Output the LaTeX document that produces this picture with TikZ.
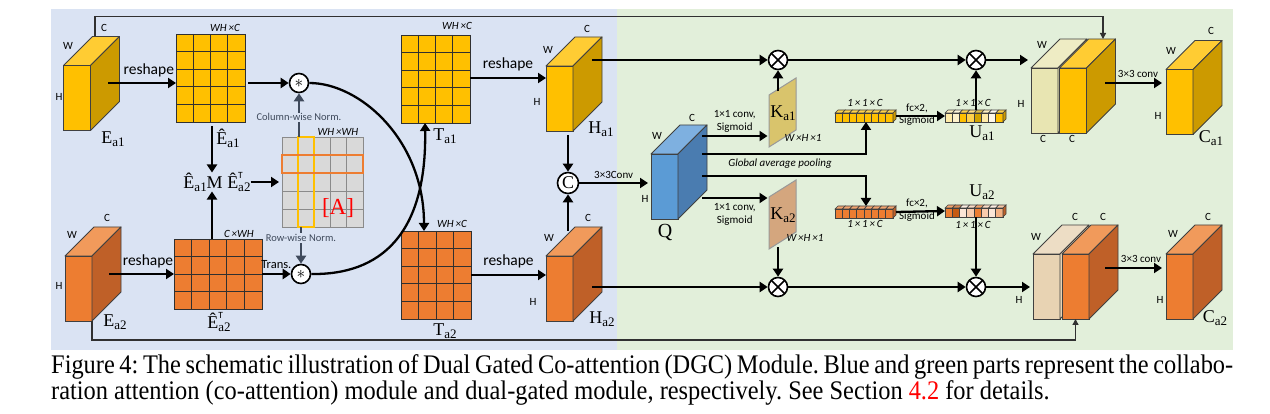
\documentclass[tikz,border=0pt]{standalone}
\usepackage{fontspec}
\setmainfont{Liberation Serif}
\newfontfamily\calib{Carlito}
\usetikzlibrary{calc,arrows.meta}
\definecolor{bgblue}{HTML}{DAE3F3}
\definecolor{bggreen}{HTML}{E2EFDA}
\definecolor{yfront}{HTML}{FFC000}
\definecolor{yside}{HTML}{CC9A00}
\definecolor{ytop}{HTML}{FFCC33}
\definecolor{ofront}{HTML}{ED7D31}
\definecolor{oside}{HTML}{BF6028}
\definecolor{otop}{HTML}{F19A5B}
\definecolor{bfront}{HTML}{5B9BD5}
\definecolor{bside}{HTML}{4A7CB0}
\definecolor{btop}{HTML}{7EB0E0}
\definecolor{pale}{HTML}{E8E5B2}
\definecolor{paletop}{HTML}{EEECC4}
\definecolor{paleo}{HTML}{E8D3B3}
\definecolor{paleotop}{HTML}{EDDDC5}
\definecolor{kyel}{HTML}{D9C46C}
\definecolor{kora}{HTML}{D4A67E}
\definecolor{edge}{HTML}{404040}
\definecolor{gridl}{HTML}{303030}
\definecolor{gcell}{HTML}{D9D9D9}
\definecolor{gline}{HTML}{8A8A8A}
\definecolor{normc}{HTML}{3F4A5C}
\definecolor{ua}{HTML}{FFEBA8}
\definecolor{ub}{HTML}{FFF2CC}
\definecolor{uc}{HTML}{FFD24D}
\definecolor{ud}{HTML}{D1A300}
\definecolor{ue}{HTML}{FFF9EC}
\definecolor{oa}{HTML}{C55A11}
\definecolor{ob}{HTML}{FBE5D6}
\definecolor{oc}{HTML}{F8CBAD}
\definecolor{od}{HTML}{F4B183}
\newcommand\sbs[1]{\raisebox{-0.35ex}{\fontsize{13}{13}\selectfont #1}}
\newcommand\supsub[2]{\rlap{\raisebox{1.15ex}{\calib\fontsize{9.5}{9.5}\selectfont #1}}\sbs{#2}}
\newcommand\mycube[5]{%
  \node[cubef, fill=#3] (#1) at (#2) {};
  \filldraw[cubee, fill=#5] (#1.north west) -- ++(29,-29) -- ++(27,0) -- (#1.north east) -- cycle;
  \filldraw[cubee, fill=#4] (#1.north east) -- ++(29,-29) -- ++(0,65) -- (#1.south east) -- cycle;
}
\newcommand\mygrid[8]{%
  \node[draw=#8, line width=0.9pt, fill=#7, minimum width=#3pt, minimum height=#4pt, inner sep=0pt, outer sep=0pt] (#1) at (#2) {};
  \foreach \k in {1,...,#5} {\draw[#8, line width=0.9pt] ($(#1.north west)!\k/#5!(#1.north east)$) -- ($(#1.south west)!\k/#5!(#1.south east)$);}
  \foreach \k in {1,...,#6} {\draw[#8, line width=0.9pt] ($(#1.north west)!\k/#6!(#1.south west)$) -- ($(#1.north east)!\k/#6!(#1.south east)$);}
}
\newcommand\myvec[4]{%
  \node[minimum width=58pt, minimum height=9pt, inner sep=0pt, outer sep=0pt] (#1) at (#2) {};
  \foreach \cl [count=\i] in {#3} {
    \filldraw[fill=\cl, draw=edge, line width=0.6pt] ($(#1.north west)+({(\i-1)*7.25},0)$) rectangle ++(7.25,9);
    \filldraw[fill=\cl!70!white, draw=edge, line width=0.6pt] ($(#1.north west)+({(\i-1)*7.25},0)$) -- ++(3,-3) -- ++(7.25,0) -- ++(-3,3) -- cycle;
  }
  \filldraw[fill=#4, draw=edge, line width=0.6pt] (#1.north east) -- ++(3,-3) -- ++(0,9) -- ++(-3,3) -- cycle;
}
\begin{document}
\begin{tikzpicture}[x=1pt,y=-1pt,
  cubef/.style={draw=edge, line width=0.9pt, minimum width=27pt, minimum height=65pt, inner sep=0pt, outer sep=0pt},
  cubee/.style={draw=edge, line width=0.9pt, line join=round},
  arr/.style={line width=2.3pt, -{Triangle[length=8pt,width=10pt]}},
  narr/.style={line width=2.1pt, draw=normc, -{Triangle[length=8pt,width=10pt]}},
  thinarr/.style={line width=1.3pt, draw=gridl, -{Triangle[length=6pt,width=6pt]}},
  opcirc/.style={circle, draw=black, line width=1.6pt, minimum size=19pt, inner sep=0pt, fill=white},
  otimes/.style={opcirc, path picture={\draw[line width=1.5pt] (path picture bounding box.north west) -- (path picture bounding box.south east) (path picture bounding box.north east) -- (path picture bounding box.south west);}},
  lab/.style={font=\calib\fontsize{11}{11}\selectfont, inner sep=0pt},
  itl/.style={font=\calib\itshape\fontsize{11}{11}\selectfont, inner sep=0pt},
  resh/.style={font=\calib\fontsize{15.5}{15.5}\selectfont, inner sep=0pt},
  sym/.style={font=\fontsize{18}{18}\selectfont, inner sep=0pt},
  normlab/.style={font=\calib\fontsize{10.5}{10.5}\selectfont, text=normc, fill=bgblue, inner sep=1pt}
]
\useasboundingbox (0,0) rectangle (1270,414);
\fill[bgblue] (51,9) rectangle (617,350);
\fill[bggreen] (617,9) rectangle (1233,350);

% cubes
\mycube{Ea1}{77,98}{yfront}{yside}{ytop}
\mycube{Ea2}{78.5,288.5}{ofront}{oside}{otop}
\mycube{Ha1}{559.5,98.5}{yfront}{yside}{ytop}
\mycube{Ha2}{559.5,288.5}{ofront}{oside}{otop}
\mycube{Q}{664.5,186.5}{bfront}{bside}{btop}
\mycube{P1}{1044.5,100.5}{pale}{pale}{paletop}
\mycube{G1}{1073,100.5}{yfront}{yside}{ytop}
\mycube{Ca1}{1179.5,102}{yfront}{yside}{ytop}
\mycube{P2}{1046.5,286.5}{paleo}{paleo}{paleotop}
\mycube{O2}{1075.5,286.5}{ofront}{oside}{otop}
\mycube{Ca2}{1179.5,286.5}{ofront}{oside}{otop}

% grids
\mygrid{Ge1}{210.5,78}{69}{88}{4}{5}{yfront}{gridl}
\mygrid{Ge2}{218,274}{88}{70}{5}{4}{ofront}{gridl}
\mygrid{Ta1}{435.5,79}{69}{88}{4}{5}{yfront}{gridl}
\mygrid{Ta2}{436,275}{70}{88}{4}{5}{ofront}{gridl}
\mygrid{A}{322.5,182}{81}{90}{5}{5}{gcell}{gline}
\draw[yfront, line width=1.9pt] ($(A.north west)+(16.2,0)$) rectangle ($(A.south west)+(32.4,0)$);
\draw[ofront, line width=1.9pt] ($(A.north west)+(0,18)$) rectangle ($(A.north east)+(0,36)$);

% operators
\node[opcirc] (s1) at (299,83) {\fontsize{18}{18}\selectfont$\ast$};
\node[opcirc] (s2) at (301,274) {\fontsize{18}{18}\selectfont$\ast$};
\node[opcirc, minimum size=21pt] (cc) at (568,183) {\fontsize{18}{18}\selectfont C};
\node[otimes] (x1) at (778,60) {};
\node[otimes] (x2) at (778,287) {};
\node[otimes] (x3) at (976,60) {};
\node[otimes] (x4) at (976,287) {};

% K maps
\coordinate (Ka1c) at (782.5,112.5);
\coordinate (Ka2c) at (782.5,214.5);
\filldraw[fill=kyel, draw=gray!80, line width=1pt] ($(Ka1c)+(-13.5,-17.5)$) -- ++(27,-17) -- ++(0,52) -- ++(-27,17) -- cycle;
\filldraw[fill=kora, draw=gray!80, line width=1pt] ($(Ka2c)+(-13.5,-17.5)$) -- ++(27,-17) -- ++(0,52) -- ++(-27,17) -- cycle;
\node[sym] (Ka1) at (783,113) {K\sbs{a1}};
\node[sym] (Ka2) at (783,215) {K\sbs{a2}};

% vectors
\myvec{V1}{864,117.5}{yfront,yfront,yfront,yfront,yfront,yfront,yfront,yfront}{yside}
\myvec{Ua1}{974,117.5}{ua,ub,yfront,uc,ud,ua,ue,yfront}{yside}
\myvec{V2}{864,213.5}{ofront,ofront,ofront,ofront,ofront,ofront,ofront,ofront}{oside}
\myvec{Ua2}{974,212.5}{ofront,oa,ob,oc,ofront,oc,ob,od}{oside}

% text nodes
\node[sym] (EME) at (217,182) {Ê\sbs{a1}M Ê\supsub{T}{a2}};

% connectors left part
\draw[arr] ($(Ea1.east)+(17.5,-15)$) -- node[resh, pos=0.6, above=5pt] (r1) {reshape} ($(Ge1.west)+(0,5)$);
\draw[arr] ($(Ge1.east)+(3,5)$) -- (s1.west);
\coordinate (e1s) at ($(Ge1.south)+(1.5,4)$);
\draw[arr] (e1s) -- (e1s |- EME.north);
\coordinate (e2n) at ($(Ge2.north)+(-6,0)$);
\draw[arr] (e2n) -- (e2n |- EME.south);
\draw[arr] (EME.east) -- ($(A.west)+(-3,0)$);
\draw[narr] ($(A.north west)+(17,0)$) -- node[normlab, pos=0.45] (lcol) {Column-wise Norm.} (s1.south);
\draw[narr] ($(A.south west)+(19,0)$) -- node[normlab, pos=0.3] (lrow) {Row-wise Norm.} (s2.north);
\draw[arr] ($(Ea2.east)+(17,-14.5)$) -- node[resh, pos=0.6, above=5pt] (r2) {reshape} (Ge2.west);
\draw[arr] (Ge2.east) -- node[lab, font=\calib\fontsize{12.5}{12.5}\selectfont, above=4pt] (ltr) {Trans.} (s2.west);
\draw[line width=2.3pt, -{Triangle[length=8pt,width=10pt]}] (s1.east) .. controls (360,83) and (424,140) .. ($(Ta2.north)+(-12,0)$);
\draw[line width=2.3pt, -{Triangle[length=8pt,width=10pt]}] (s2.east) .. controls (380,275) and (427,235) .. ($(Ta1.south)+(-10.5,0)$);
\draw[arr] ($(Ta1.east)+(0,-1)$) -- node[resh, midway, above=6pt] (r3) {reshape} ($(Ha1.west)+(0,-20.5)$);
\draw[arr] (Ta2.east) -- node[resh, midway, above=6pt] (r4) {reshape} ($(Ha2.west)+(0,-13.5)$);

% middle
\draw[arr] ($(Ha1.east)+(19,-38.5)$) -- (x1.west);
\draw[arr] (x1.east) -- (x3.west);
\draw[arr] (x3.east) -- ($(P1.west)+(-3,-40.5)$);
\draw[arr] ($(Ha1.south)+(8.5,4)$) -- (cc.north);
\draw[arr] ($(Ha2.north)+(8.5,-25)$) -- (cc.south);
\draw[arr] (cc.east) -- node[lab, midway, above=3pt] (l33) {3×3Conv} ($(Q.west)+(-3,-3.5)$);
\draw[arr] ($(Ha2.east)+(19,-1.5)$) -- (x2.west);
\draw[arr] (x2.east) -- (x4.west);
\draw[arr] (x4.east) -- ($(P2.west)+(-3,0.5)$);
\draw[arr] ($(Q.east)+(24,-50.5)$) -- node[lab, midway, above=2pt, align=center, font=\calib\fontsize{11}{13}\selectfont] (lc1) {1×1 conv,\\Sigmoid} ($(Ka1c)+(-15,23.5)$);
\draw[arr] ($(Q.east)+(24,-32.5)$) -| ($(V1.south)+(2,0)$);
\draw[arr] ($(Q.east)+(24,-10.5)$) -| ($(V2.north)+(2,-3)$);
\draw[arr] ($(Q.east)+(24,11.5)$) -- node[lab, midway, below=4pt, align=center, font=\calib\fontsize{11}{13}\selectfont] (lc2) {1×1 conv,\\Sigmoid} ($(Ka2c)+(-15,-16.5)$);
\draw[arr] ($(Ka1c)+(-4.5,-21)$) -- (x1.south);
\draw[arr] ($(Ka2c)+(-4.5,33)$) -- (x2.north);
\draw[arr] ($(V1.east)+(3,-1.5)$) -- ($(Ua1.west)+(0,-1.5)$);
\draw[arr] ($(V2.east)+(3,-1.5)$) -- ($(Ua2.west)+(0,-1.5)$);
\draw[arr] ($(Ua1.north)+(2,-3)$) -- (x3.south);
\draw[arr] ($(Ua2.south)+(2,0)$) -- (x4.north);
\draw[arr] ($(G1.east)+(18.5,-17.5)$) -- ($(Ca1.west)+(-4,-19)$);
\draw[arr] ($(O2.east)+(16,-18.5)$) -- ($(Ca2.west)+(-4,-18.5)$);

% skip connections
\draw[thinarr] ($(Ea1.north west)+(31.5,-29)$) -- ++(0,-20) -| ($(G1.north west)+(43.5,-29)$);
\draw[thinarr] (Ea2.south east) -- ++(0,19) -| (O2.south);

% labels
\node[lab] (a1) at (68,46) {W};
\node[lab] (a2) at (104,28) {C};
\node[lab] (a3) at (59,97) {H};
\node[sym] (a4) at (113,139) {E\sbs{a1}};
\node[lab] (b1) at (72,235) {W};
\node[lab] (b2) at (107,218) {C};
\node[lab] (b3) at (59,286) {H};
\node[sym] (b4) at (115,322) {E\sbs{a2}};
\node[itl] (g1) at (225,28) {WH\,×C};
\node[sym] (g2) at (228,138) {Ê\sbs{a1}};
\node[itl] (g3) at (239,234) {C\,×WH};
\node[sym] (g4) at (219,322) {Ê\supsub{T}{a2}};
\node[itl] (g5) at (338,132) {WH\,×WH};
\node[inner sep=0pt, text=red, font=\fontsize{23}{23}\selectfont] (g6) at (338,208) {[A]};
\node[itl] (t1) at (457,26) {WH\,×C};
\node[sym] (t2) at (445,136) {T\sbs{a1}};
\node[itl] (t3) at (452,224) {WH\,×C};
\node[sym] (t4) at (445,331) {T\sbs{a2}};
\node[lab] (h1) at (548,50) {W};
\node[lab] (h2) at (587,29) {C};
\node[lab] (h3) at (537,102) {H};
\node[sym] (h4) at (601,129) {H\sbs{a1}};
\node[lab] (h5) at (549,238) {W};
\node[lab] (h6) at (588,218) {C};
\node[lab] (h7) at (533,302) {H};
\node[sym] (h8) at (602,319) {H\sbs{a2}};
\node[lab] (q1) at (692,118) {C};
\node[lab] (q2) at (657,136) {W};
\node[lab] (q3) at (645,199) {H};
\node[sym, font=\fontsize{20}{20}\selectfont] (q4) at (665,233) {Q};
\node[itl] (gap) at (780,164) {Global average pooling};
\node[itl] (k1) at (803,138) {W\,×H\,×1};
\node[itl] (k2) at (805,238) {W\,×H\,×1};
\node[itl] (v1) at (865,103) {1\,×\,1\,×\,C};
\node[lab] (v2) at (917,108) {fc×2,};
\node[lab] (v3) at (917,121) {Sigmoid};
\node[itl] (v4) at (973,103) {1\,×\,1\,×\,C};
\node[sym] (v5) at (982,133) {U\sbs{a1}};
\node[itl] (w1) at (865,224) {1\,×\,1\,×\,C};
\node[lab] (w2) at (917,203) {fc×2,};
\node[lab] (w3) at (917,217) {Sigmoid};
\node[sym] (w4) at (982,192) {U\sbs{a2}};
\node[itl] (w5) at (973,225) {1\,×\,1\,×\,C};
\node[lab] (c1) at (1042,45) {W};
\node[lab] (c2) at (1021,104) {H};
\node[lab] (c3) at (1043,139) {C};
\node[lab] (c4) at (1072,139) {C};
\node[lab] (c5) at (1138,74) {3×3 conv};
\node[lab] (c6) at (1211,31) {C};
\node[lab] (c7) at (1171,51) {W};
\node[lab] (c8) at (1158,116) {H};
\node[sym] (c9) at (1211,138) {C\sbs{a1}};
\node[lab] (d1) at (1075,217) {C};
\node[lab] (d2) at (1103,217) {C};
\node[lab] (d3) at (1036,237) {W};
\node[lab] (d4) at (1019,300) {H};
\node[lab] (d5) at (1141,259) {3×3 conv};
\node[lab] (d6) at (1208,217) {C};
\node[lab] (d7) at (1173,234) {W};
\node[lab] (d8) at (1160,300) {H};
\node[sym] (d9) at (1215,318) {C\sbs{a2}};

% caption
\node[anchor=base west, inner sep=0pt, font=\fontsize{24.4}{24.4}\selectfont] (cap1) at (51,373) {\frenchspacing\scalebox{1}[1.1]{\makebox[1182pt][s]{Figure 4: The schematic illustration of Dual Gated Co-attention (DGC) Module. Blue and green parts represent the collabo-}}};
\node[anchor=base west, inner sep=0pt, font=\fontsize{24.4}{24.4}\selectfont] (cap2) at (51,399) {\frenchspacing\scalebox{1}[1.1]{ration attention (co-attention) module and dual-gated module, respectively. See Section \textcolor{red}{4.2} for details.}};
\end{tikzpicture}
\end{document}
